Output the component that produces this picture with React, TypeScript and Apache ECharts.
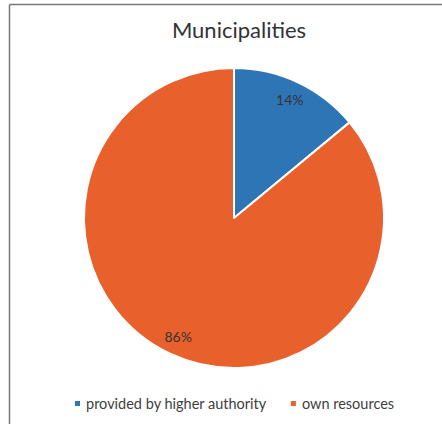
import React, { useEffect, useRef } from "react";
import * as echarts from "echarts";

const categories = ["provided by higher authority", "own resources"];
const values = [14, 86];
const colors = ["#2E75B6", "#E8612D"];
const titleText = "Municipalities";

export default function App() {
  const ref = useRef<HTMLDivElement>(null);
  useEffect(() => {
    document.body.style.margin = "0";
    const chart = echarts.init(ref.current!, null, { renderer: "svg" });
    const data = categories.map((name, i) => ({ name, value: values[i], itemStyle: { color: colors[i] } }));
    chart.setOption({
      animation: false,
      backgroundColor: "#ffffff",
      title: {
        text: titleText,
        left: 234,
        textAlign: "center",
        top: 13,
        textStyle: { fontFamily: "Lato", fontSize: 22, fontWeight: "normal", color: "#333333" },
      },
      legend: {
        bottom: 8,
        left: 68,
        icon: "rect",
        itemWidth: 7,
        itemHeight: 7,
        itemGap: 22,
        data: categories,
        textStyle: { fontFamily: "Lato", fontSize: 14.5, color: "#404040" },
      },
      graphic: [
        { type: "line", shape: { x1: 9.5, y1: 4.5, x2: 442, y2: 4.5 }, style: { stroke: "#777777", lineWidth: 1.5 } },
        { type: "line", shape: { x1: 9.5, y1: 4.5, x2: 9.5, y2: 424 }, style: { stroke: "#777777", lineWidth: 1.5 } },
      ],
      series: [
        {
          type: "pie",
          center: [234, 218],
          radius: [0, 150],
          startAngle: 90,
          clockwise: true,
          label: { show: false },
          labelLine: { show: false },
          itemStyle: { borderColor: "#ffffff", borderWidth: 2 },
          emphasis: { disabled: true },
          data,
        },
        {
          type: "pie",
          center: [234, 218],
          radius: [106, 150],
          startAngle: 90,
          clockwise: true,
          silent: true,
          itemStyle: { color: "transparent", borderWidth: 0 },
          label: {
            show: true,
            position: "inside",
            formatter: "{c}%",
            fontFamily: "Lato",
            fontSize: 14,
            color: "#333333",
          },
          labelLine: { show: false },
          emphasis: { disabled: true },
          data: categories.map((name, i) => ({ name, value: values[i], itemStyle: { color: "transparent" } })),
        },
      ],
    });
    return () => chart.dispose();
  }, []);
  return <div ref={ref} style={{ width: 442, height: 424 }} />;
}
